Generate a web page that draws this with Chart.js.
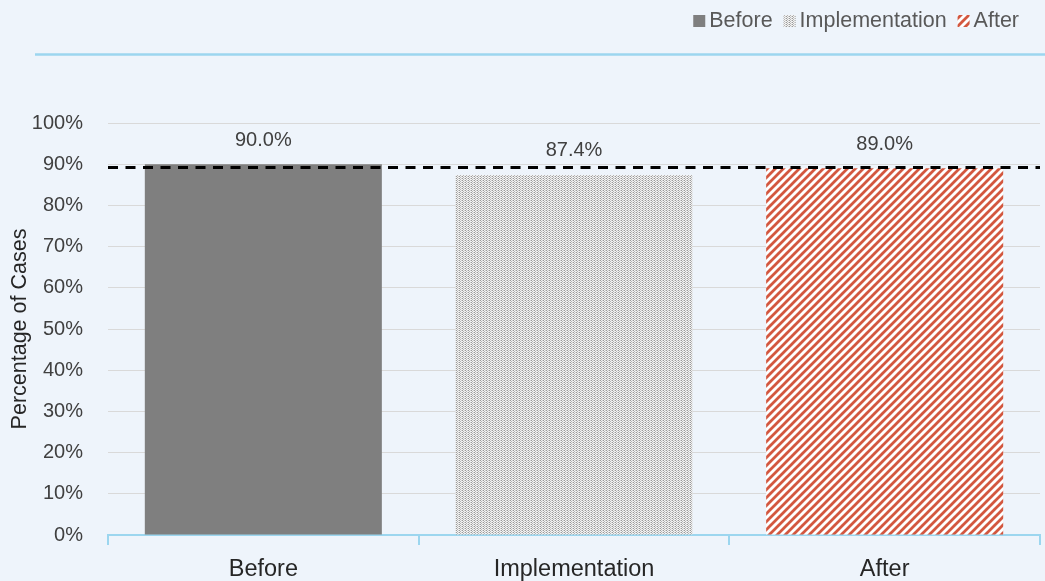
<!DOCTYPE html>
<html>
<head>
<meta charset="utf-8">
<script src="https://cdn.jsdelivr.net/npm/chart.js@4/dist/chart.umd.min.js"></script>
<style>
  html, body { margin: 0; padding: 0; background: #EEF4FB; }
  #wrap { width: 1045px; height: 581px; position: relative; }
</style>
</head>
<body>
<div id="wrap"><canvas id="c" width="1045" height="581"></canvas></div>
<script>
// Share of cases per study phase (percent)
const categories = ['Before', 'Implementation', 'After'];
const values = [90.0, 87.4, 89.0];
const benchmark = [89.2];
const yTicks = [0, 10, 20, 30, 40, 50, 60, 70, 80, 90, 100];

const FONT = "'Liberation Sans', Arial, sans-serif";

// Fill styles: solid grey, fine dot screen, red diagonal hatching
function dotPattern() {
  const c = document.createElement('canvas');
  c.width = 3; c.height = 2;
  const g = c.getContext('2d');
  g.fillStyle = '#F2F2F2'; g.fillRect(0, 0, 3, 2);
  g.fillStyle = '#999999'; g.fillRect(0, 0, 1, 1);
  g.fillStyle = '#B5B5B5'; g.fillRect(1, 1, 1, 1);
  g.fillStyle = '#D0D0D0'; g.fillRect(2, 0, 1, 1);
  return g.createPattern(c, 'repeat');
}
function stripePattern() {
  const s = 8;
  const c = document.createElement('canvas');
  c.width = s; c.height = s;
  const g = c.getContext('2d');
  g.fillStyle = '#FFFFFF'; g.fillRect(0, 0, s, s);
  g.strokeStyle = '#D3573F'; g.lineWidth = 2.8; g.lineCap = 'square';
  g.beginPath();
  g.moveTo(0, s); g.lineTo(s, 0);
  g.moveTo(-2, 2); g.lineTo(2, -2);
  g.moveTo(s - 2, s + 2); g.lineTo(s + 2, s - 2);
  g.stroke();
  return g.createPattern(c, 'repeat');
}
const fills = ['#7F7F7F', dotPattern(), stripePattern()];

// Light rule under the legend band
const headerRule = {
  id: 'headerRule',
  beforeDraw(chart) {
    const ctx = chart.ctx;
    ctx.save();
    ctx.strokeStyle = '#9CD6EF';
    ctx.lineWidth = 2.5;
    ctx.beginPath();
    ctx.moveTo(35, 54.5); ctx.lineTo(1045, 54.5);
    ctx.stroke();
    ctx.restore();
  }
};

// Dashed reference level across the plot
const refLine = {
  id: 'refLine',
  afterDatasetsDraw(chart) {
    const y = chart.scales.y.getPixelForValue(benchmark[0]);
    const { left, right } = chart.chartArea;
    const ctx = chart.ctx;
    ctx.save();
    ctx.strokeStyle = '#000000';
    ctx.lineWidth = 3;
    ctx.setLineDash([10, 7.5]);
    ctx.beginPath();
    ctx.moveTo(left, y); ctx.lineTo(right, y);
    ctx.stroke();
    ctx.restore();
  }
};

// Value labels above each bar
const valueLabels = {
  id: 'valueLabels',
  afterDatasetsDraw(chart) {
    const ctx = chart.ctx;
    const meta = chart.getDatasetMeta(0);
    ctx.save();
    ctx.font = '20px ' + FONT;
    ctx.fillStyle = '#404040';
    ctx.textAlign = 'center';
    ctx.textBaseline = 'middle';
    meta.data.forEach((bar, i) => {
      ctx.fillText(values[i].toFixed(1) + '%', bar.x, bar.y - 24);
    });
    ctx.restore();
  }
};

// Legend row, right-aligned at the top
const legendRow = {
  id: 'legendRow',
  afterDraw(chart) {
    const ctx = chart.ctx;
    ctx.save();
    ctx.font = '21.5px ' + FONT;
    ctx.textBaseline = 'middle';
    const box = 12, gap = 4, itemGap = 11, cy = 21;
    let x = 1019;
    for (let i = categories.length - 1; i >= 0; i--) {
      const w = ctx.measureText(categories[i]).width;
      x -= w;
      ctx.fillStyle = '#595959';
      ctx.fillText(categories[i], x, cy);
      x -= gap + box;
      ctx.fillStyle = fills[i];
      ctx.fillRect(x, cy - box / 2, box, box);
      x -= itemGap;
    }
    ctx.restore();
  }
};

new Chart(document.getElementById('c'), {
  type: 'bar',
  data: {
    labels: categories,
    datasets: [{
      data: values,
      backgroundColor: fills,
      borderWidth: 0,
      barPercentage: 0.763,
      categoryPercentage: 1.0
    }]
  },
  options: {
    responsive: false,
    animation: false,
    devicePixelRatio: 1,
    layout: { padding: { top: 123, left: 0, right: 5, bottom: 0 } },
    plugins: {
      legend: { display: false },
      tooltip: { enabled: false }
    },
    scales: {
      x: {
        grid: {
          display: true,
          drawOnChartArea: false,
          drawTicks: true,
          tickLength: 10,
          color: '#9CD6EF',
          lineWidth: 2
        },
        border: { display: true, color: '#9CD6EF', width: 2 },
        ticks: {
          color: '#262626',
          font: { family: FONT, size: 23.5 },
          padding: 10
        },
        afterFit(scale) { scale.height = 46; }
      },
      y: {
        min: 0,
        max: 100,
        afterBuildTicks(scale) { scale.ticks = yTicks.map(v => ({ value: v })); },
        grid: { color: '#D9D9D9', lineWidth: 1, drawTicks: false },
        border: { display: false },
        ticks: {
          color: '#404040',
          font: { family: FONT, size: 20 },
          padding: 25,
          callback: v => v + '%'
        },
        title: {
          display: true,
          text: 'Percentage of Cases',
          color: '#262626',
          font: { family: FONT, size: 21.5 },
          padding: { top: 7, bottom: 0 }
        },
        afterFit(scale) { scale.width = 108; }
      }
    }
  },
  plugins: [headerRule, refLine, valueLabels, legendRow]
});
</script>
</body>
</html>
